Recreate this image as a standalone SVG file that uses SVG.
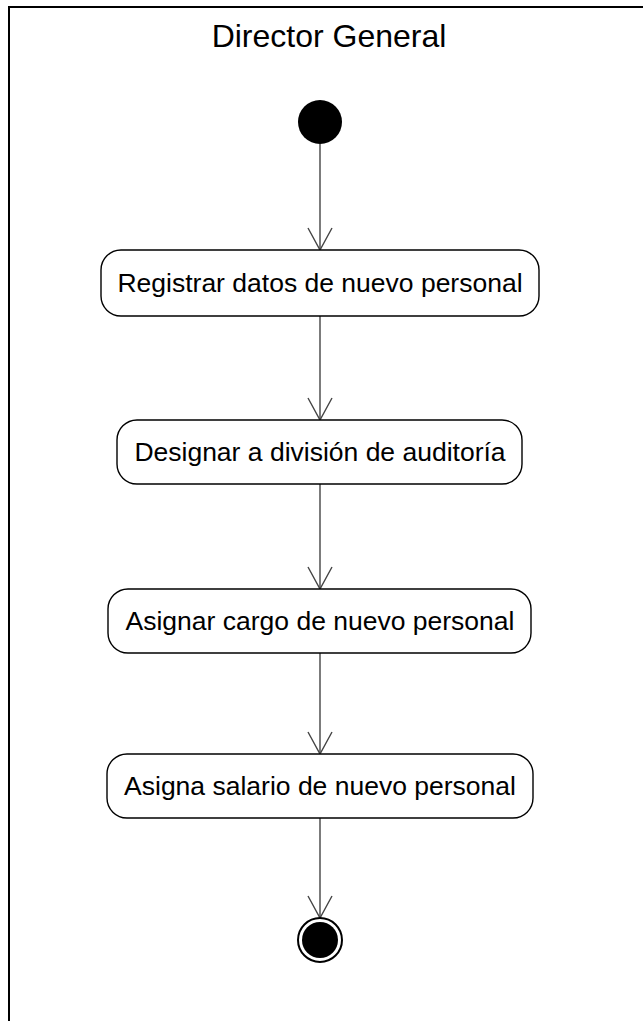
<svg xmlns="http://www.w3.org/2000/svg" width="643" height="1021" viewBox="0 0 643 1021">
  <style>
    .frame { fill: none; stroke: #000; stroke-width: 2; }
    .act { fill: #fff; stroke: #000; stroke-width: 1.4; }
    .lbl { font-family: "Liberation Sans", Arial, sans-serif; font-size: 26.5px; fill: #000; text-anchor: middle; }
    .title { font-family: "Liberation Sans", Arial, sans-serif; font-size: 32px; fill: #000; text-anchor: middle; }
    .flow { fill: none; stroke: #444; stroke-width: 1.4; marker-end: url(#open); }
  </style>
  <defs>
    <marker id="open" markerUnits="userSpaceOnUse" markerWidth="26" markerHeight="26" refX="22" refY="12" orient="auto" overflow="visible">
      <path d="M0,0 L22,12 L0,24" fill="none" stroke="#444" stroke-width="1.4"/>
    </marker>
  </defs>
  <rect id="bg" x="0" y="0" width="643" height="1021" fill="#fff"/>
  <g id="swimlane">
    <rect class="frame" x="9" y="7" width="800" height="1100"/>
    <text class="title" x="329" y="47">Director General</text>
  </g>
  <g id="connectors">
    <line class="flow" x1="320" y1="144" x2="320" y2="250"/>
    <line class="flow" x1="320" y1="316" x2="320" y2="420"/>
    <line class="flow" x1="320" y1="484" x2="320" y2="589"/>
    <line class="flow" x1="320" y1="653" x2="320" y2="754"/>
    <line class="flow" x1="320" y1="818" x2="320" y2="918"/>
  </g>
  <g id="start">
    <circle cx="320" cy="122" r="22" fill="#000"/>
  </g>
  <g id="act1">
    <rect class="act" x="101" y="250" width="438" height="66" rx="20" ry="20"/>
    <text class="lbl" x="320" y="292">Registrar datos de nuevo personal</text>
  </g>
  <g id="act2">
    <rect class="act" x="117" y="420" width="405" height="64" rx="20" ry="20"/>
    <text class="lbl" x="320" y="461">Designar a división de auditoría</text>
  </g>
  <g id="act3">
    <rect class="act" x="108" y="589" width="423" height="64" rx="20" ry="20"/>
    <text class="lbl" x="320" y="630">Asignar cargo de nuevo personal</text>
  </g>
  <g id="act4">
    <rect class="act" x="107" y="754" width="426" height="64" rx="20" ry="20"/>
    <text class="lbl" x="320" y="795">Asigna salario de nuevo personal</text>
  </g>
  <g id="end">
    <circle cx="320" cy="940" r="22" fill="#fff" stroke="#000" stroke-width="2"/>
    <circle cx="320" cy="940" r="18" fill="#000"/>
  </g>
</svg>
